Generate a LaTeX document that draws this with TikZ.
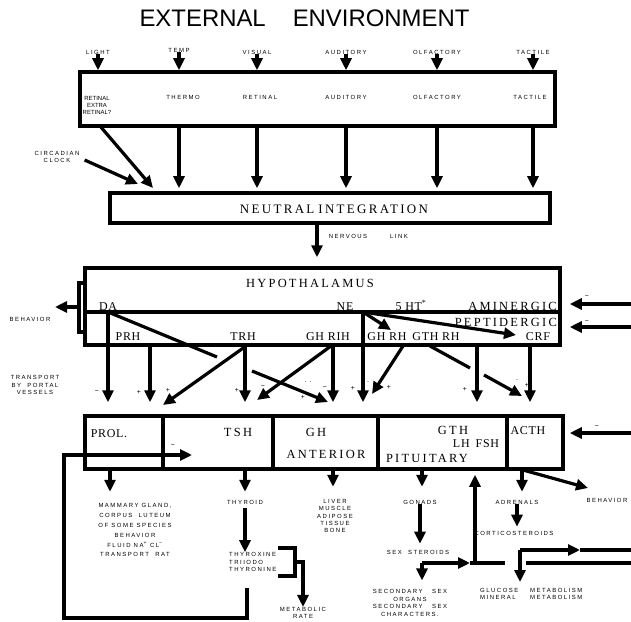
\documentclass[tikz,border=0pt]{standalone}
\usepackage{fontspec}
\setmainfont{Liberation Serif}
\setsansfont{Liberation Sans}
\newfontfamily\capfont[LetterSpace=18]{Liberation Serif}
\newfontfamily\rowfont[LetterSpace=6]{Liberation Serif}
\newfontfamily\tinyfont[LetterSpace=25]{Liberation Sans}
\usetikzlibrary{arrows.meta}

\begin{document}
\begin{tikzpicture}[x=1bp,y=-1bp,
  box/.style={draw,line width=3.5bp,inner sep=0pt},
  lne/.style={line width=3.2bp},
  arr/.style={line width=3.2bp,-{Triangle[length=12bp,width=11bp]}},
  tinylab/.style={font=\tinyfont\fontsize{6}{7.5}\selectfont,align=center},
  caplab/.style={font=\capfont\fontsize{12.5}{13}\selectfont},
  rowlab/.style={font=\rowfont\fontsize{12}{13}\selectfont,anchor=base},
  sgn/.style={font=\sffamily\fontsize{7}{7}\selectfont}]
\tikzstyle{every node}+=[inner sep=0pt]
\useasboundingbox (0,0) rectangle (631,622);

% title and senses
\node[font=\sffamily\fontsize{24}{24}\selectfont] (title) at (304.5,18) {EXTERNAL\hspace{27bp}ENVIRONMENT};
\node[tinylab] (light) at (98,52) {LIGHT};
\node[tinylab] (temp) at (179,50) {TEMP};
\node[tinylab] (visual) at (257,52) {VISUAL};
\node[tinylab] (audit) at (346,52) {AUDITORY};
\node[tinylab] (olf) at (437,52) {OLFACTORY};
\node[tinylab] (tact) at (533,52) {TACTILE};

% boxes
\node[box,minimum width=475bp,minimum height=54bp] (sense) at (317.5,99) {};
\node[box,minimum width=440bp,minimum height=30bp] (neut) at (330,208) {};
\node[caplab,font=\capfont\fontsize{13}{13}\selectfont] (neuttxt) at (334,209) {NEUTRAL\hspace{4bp}INTEGRATION};
\node[box,minimum width=475bp,minimum height=77bp] (hypo) at (322.5,306.5) {};
\draw[lne] (85,312) -- (560,312);
\node[box,minimum width=478bp,minimum height=53bp] (pit) at (324,442.5) {};
\foreach \x in {163,273,378,507}
  \draw[lne] (\x,416) -- (\x,469);

\node[font=\sffamily\fontsize{6}{7}\selectfont,align=center] (retx) at (97,105) {RETINAL\\EXTRA\\RETINAL?};
\node[tinylab] (thermo) at (183,97) {THERMO};
\node[tinylab] (retinal) at (260,97) {RETINAL};
\node[tinylab] (audin) at (346,97) {AUDITORY};
\node[tinylab] (olfin) at (437,97) {OLFACTORY};
\node[tinylab] (tactin) at (530,97) {TACTILE};

\foreach \n in {light,temp,visual,audit,olf,tact}
  \draw[arr] (\n.south) -- (\n.south |- sense.north);
\foreach \n in {temp,visual,audit,olf,tact}
  \draw[arr,shorten >=3bp] (\n |- sense.south) -- (\n |- neut.north);

\coordinate (lgt) at (100,126);
\coordinate (clk) at (153,188);
\draw[arr] (lgt) -- (clk);
\node[tinylab] (clock) at (57,157) {CIRCADIAN\\CLOCK};
\coordinate (clkend) at (138,184);
\draw[arr] ([xshift=5bp,yshift=-3bp]clock.east) -- (clkend);

% nervous link
\coordinate (xnl) at (317,0);
\draw[arr,shorten >=9bp] (xnl |- neut.south) -- (xnl |- hypo.north);
\node[tinylab] (nerv) at (348,236) {NERVOUS};
\node[tinylab] (link) at (399,236) {LINK};

% hypothalamus to pituitary
\coordinate (daj) at (108,312);
\coordinate (nej) at (363,312);
\coordinate (xprh) at (150,0);
\coordinate (xtrh) at (245,0);
\coordinate (xrih) at (333,0);
\coordinate (xgth) at (477,0);
\coordinate (xcrf) at (530,0);
\draw[arr,shorten >=12bp] (daj) -- (daj |- pit.north);
\draw[arr,shorten >=12bp] (xprh |- hypo.south) -- (xprh |- pit.north);
\coordinate (prolin) at (163,405);
\draw[arr] (xtrh |- hypo.south) -- (prolin);
\draw[arr,shorten >=12bp] (xtrh |- hypo.south) -- (xtrh |- pit.north);
\coordinate (dagap1) at (217,357);
\coordinate (dagap2) at (252,371);
\coordinate (ghin) at (328,402);
\draw[lne] (daj) -- (dagap1);
\draw[arr] (dagap2) -- (ghin);
\coordinate (rihb) at (331,346);
\coordinate (tshin) at (257,400);
\draw[arr] (rihb) -- (tshin);
\draw[arr,shorten >=12bp] (xrih |- hypo.south) -- (xrih |- pit.north);
\draw[arr,shorten >=12bp] (nej) -- (nej |- pit.north);
\coordinate (ghrhb) at (403,346);
\coordinate (ghin2) at (372,394);
\draw[arr] (ghrhb) -- (ghin2);
\draw[arr,shorten >=12bp] (xgth |- hypo.south) -- (xgth |- pit.north);
\coordinate (gtrb) at (430,346);
\coordinate (gtgap1) at (470,368);
\coordinate (gtgap2) at (484,375);
\coordinate (acthin) at (522,396);
\draw[lne] (gtrb) -- (gtgap1);
\draw[arr] (gtgap2) -- (acthin);
\draw[arr,shorten >=12bp] (xcrf |- hypo.south) -- (xcrf |- pit.north);
\coordinate (nerh) at (391,330);
\coordinate (necrf) at (516,335);
\draw[arr] (nej) -- (nerh);
\draw[arr] (nej) -- (necrf);

% hypothalamus texts
\node[caplab] (hyptxt) at (310,283) {HYPOTHALAMUS};
\node[rowlab] (da) at (108,310) {DA};
\node[rowlab] (ne) at (345,310) {NE};
\node[rowlab] (ht) at (411,310) {5 HT\textsuperscript{*}};
\node[caplab,anchor=base east] (amin) at (557,310) {AMINERGIC};
\node[caplab,anchor=base east] (pept) at (557,326) {PEPTIDERGIC};
\node[rowlab] (prh) at (128,340) {PRH};
\node[rowlab] (trh) at (243,340) {TRH};
\node[rowlab] (rih) at (328,340) {GH RIH};
\node[rowlab] (ghrh) at (387,340) {GH RH};
\node[rowlab] (gthrh) at (436,340) {GTH RH};
\node[rowlab] (crf) at (538,340) {CRF};

% signs
\node[sgn] (s1) at (97,392) {−};
\node[sgn] (s2) at (139,392) {+};
\node[sgn] (s3) at (168,390) {+};
\node[sgn] (s4) at (237,390) {+};
\node[sgn] (s5) at (263,387) {−};
\node[sgn] (s6) at (308,382) {. .};
\node[sgn] (s7) at (325,388) {−};
\node[sgn] (s8) at (303,397) {+};
\node[sgn] (s9) at (353,388) {+};
\node[sgn] (s10) at (368,382) {.};
\node[sgn] (s11) at (389,387) {+};
\node[sgn] (s12) at (465,389) {+};
\node[sgn] (s13) at (517,380) {.};
\node[sgn] (s14) at (527,385) {+};

% inputs from the right
\coordinate (inA) at (631,304);
\coordinate (inP) at (631,327);
\coordinate (inC) at (631,433);
\draw[arr,shorten >=8bp] (inA) -- (inA -| hypo.east);
\draw[arr,shorten >=8bp] (inP) -- (inP -| hypo.east);
\draw[arr,shorten >=5bp] (inC) -- (inC -| pit.east);
\node[sgn] (s15) at (587,297) {−};
\node[sgn] (s16) at (587,322) {−};
\node[sgn] (s17) at (597,427) {−};

% left side
\draw[lne] (85,283) -- (79,283) -- (79,332) -- (85,332);
\coordinate (behj) at (79,307);
\coordinate (behtip) at (55,307);
\draw[arr] (behj) -- (behtip);
\node[tinylab] (beh1) at (30,319) {BEHAVIOR};
\node[tinylab] (trans) at (35,385) {TRANSPORT\\BY\ \ PORTAL\\VESSELS};

% pituitary texts
\node[rowlab] (prol) at (109,437) {PROL.};
\node[caplab] (tsh) at (238,432) {TSH};
\node[caplab] (gh) at (316,432) {GH};
\node[caplab] (ant) at (326,454) {ANTERIOR};
\node[caplab] (gth) at (453,430) {GTH};
\node[rowlab] (lhfsh) at (476,447) {LH\hspace{6bp}FSH};
\node[caplab] (pitt) at (427,458) {PITUITARY};
\node[rowlab] (acth) at (528,434) {ACTH};

% feedback to TSH
\coordinate (fb0) at (247,588);
\coordinate (fb1) at (247,618);
\coordinate (fb2) at (64,618);
\coordinate (fb3) at (64,455);
\coordinate (fb4) at (192,455);
\draw[arr] (fb0) -- (fb1) -- (fb2) -- (fb3) -- (fb4);
\node[sgn] (s18) at (173,446) {−};

% targets
\coordinate (xprol) at (110,0);
\coordinate (xtsh) at (245,0);
\coordinate (xgh) at (333,0);
\coordinate (xgon) at (422,0);
\coordinate (xact) at (522,0);
\draw[arr] (xprol |- pit.south) -- ++(0,21);
\node[tinylab] (mam) at (135,530) {MAMMARY GLAND,\\[2.5bp]CORPUS\ \ LUTEUM\\[2.5bp]OF SOME SPECIES\\[2.5bp]BEHAVIOR\\[2.5bp]FLUID NA\textsuperscript{+} CL\textsuperscript{−}\\[2.5bp]TRANSPORT\ \ RAT};

\draw[arr] (xtsh |- pit.south) -- ++(0,21);
\node[tinylab] (thyr) at (245,502) {THYROID};
\node[tinylab,align=left,anchor=west] (thyx) at (229,562) {THYROXINE\\TRIIODO\\THYRONINE};
\draw[arr,shorten <=4bp] (thyr.south) -- (thyr.south |- thyx.north);
\node[tinylab] (metab) at (303,613) {METABOLIC\\RATE};
\draw[lne] (278,548) -- (295,548) -- (295,576) -- (278,576);
\coordinate (brk) at (295,562);
\coordinate (brk2) at (303,562);
\draw[arr] (brk) -- (brk2) -- (metab.north);

\draw[arr] (xgh |- pit.south) -- ++(0,16);
\node[tinylab] (liver) at (335,516) {LIVER\\MUSCLE\\ADIPOSE\\TISSUE\\BONE};

\draw[arr] (xgon |- pit.south) -- ++(0,16);
\node[tinylab] (gonads) at (420,502) {GONADS};
\node[tinylab] (sexst) at (418,552) {SEX\ \ STEROIDS};
\draw[arr,shorten >=6bp] (gonads.south) -- (gonads.south |- sexst.north);
\node[tinylab] (second) at (410,603) {SECONDARY\ \ \ SEX\\ORGANS\\SECONDARY\ \ \ SEX\\CHARACTERS.};
\coordinate (secj) at (422,563);
\coordinate (lowR) at (631,563);
\coordinate (lowA) at (470,563);
\coordinate (lowB) at (505,563);
\coordinate (lowC) at (526,563);
\coordinate (xfb) at (475,0);
\draw[arr,shorten >=9bp] (secj) -- (secj |- second.north);
\draw[lne] (lowA) -- (lowB);
\draw[lne] (lowC) -- (lowR);
\draw[arr] (secj) -- (lowA);
\draw[arr,shorten >=4bp] (xfb |- secj) -- (xfb |- pit.south);

\draw[arr] (xact |- pit.south) -- ++(0,21);
\node[tinylab] (adren) at (517,502) {ADRENALS};
\node[tinylab] (cortic) at (514,533) {CORTICOSTEROIDS};
\draw[arr,shorten >=4bp] (adren.south) -- (adren.south |- cortic.north);
\coordinate (behst) at (523,470);
\coordinate (behend) at (588,488);
\draw[arr] (behst) -- (behend);
\node[tinylab] (beh2) at (607,500) {BEHAVIOR};

\coordinate (glj) at (520,550);
\coordinate (upA) at (580,550);
\coordinate (upR) at (631,550);
\coordinate (glend) at (520,582);
\draw[lne] (upA) -- (upR);
\draw[arr] (glj) -- (upA);
\draw[arr] (glj) -- (glend);
\node[tinylab,align=left,anchor=west] (gluc) at (480,594) {GLUCOSE\\MINERAL};
\node[tinylab,align=left,anchor=west] (metb) at (530,594) {METABOLISM\\METABOLISM};
\end{tikzpicture}
\end{document}
